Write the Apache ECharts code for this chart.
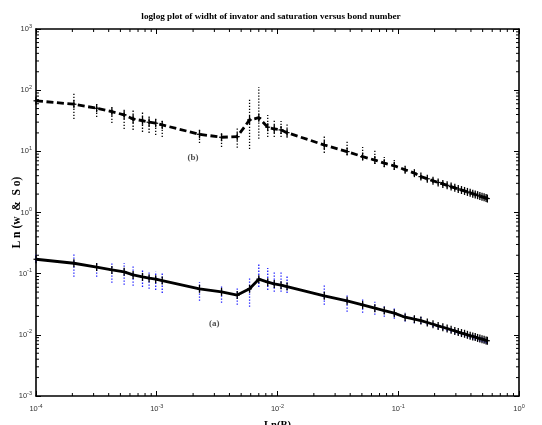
<!DOCTYPE html>
<html><head><meta charset="utf-8">
<script src="https://cdn.jsdelivr.net/npm/echarts@6/dist/echarts.min.js"></script>
<style>html,body{margin:0;padding:0;background:#fff}#c{width:542px;height:425px}</style>
</head><body><div id="c"></div>
<script>
const titleText = 'loglog plot of widht of invator and saturation versus bond number';
const xName = 'Ln(B)';
const yName = 'L n (w  &  S o)';
const xMin = 1e-4, xMax = 1;
const yMin = 1e-3, yMax = 1e3;

// bond number (x) sampled values
const bondNumber = [1e-4, 2.06e-4, 3.18e-4, 4.25e-4, 5.37e-4, 6.37e-4, 7.62e-4, 8.64e-4, 9.8e-4, 1.11e-3,
  2.26e-3, 3.44e-3, 4.64e-3, 5.87e-3, 7.0e-3, 8.3e-3, 9.4e-3, 1.07e-2, 1.2e-2,
  2.44e-2, 3.77e-2, 5.07e-2, 6.4e-2, 7.66e-2, 9.27e-2, 0.114, 0.136, 0.154,
  0.174, 0.194, 0.214, 0.234, 0.254, 0.274, 0.294, 0.314, 0.334, 0.354, 0.374, 0.394,
  0.414, 0.434, 0.454, 0.474, 0.494, 0.514, 0.534, 0.547];

// (b) width of invader - mean line and spread of realisations
const widthB = [67, 58.9, 50.6, 44.5, 39.4, 33.8, 31.7, 29.9, 28.8, 27,
  19, 17, 17.4, 32.6, 35.5, 24.8, 23.2, 22.4, 20.2,
  12.7, 9.9, 8.2, 7.2, 6.4, 5.8, 5.0, 4.4, 3.86,
  3.56, 3.31, 3.10, 2.93, 2.78, 2.65, 2.53, 2.43, 2.33, 2.25, 2.17, 2.10,
  2.03, 1.97, 1.92, 1.86, 1.81, 1.77, 1.72, 1.69];
const widthBLow = [67, 33.8, 36.5, 29.1, 23.2, 22.4, 20.8, 20, 18.5, 17.2,
  13.7, 11.8, 11.4, 10.9, 16, 17.2, 17.2, 17.2, 16.6,
  9.42, 8.73, 7.22, 6.22, 5.56, 4.97, 4.5, 3.95, 3.5,
  3.25, 3.05, 2.86, 2.70, 2.56, 2.44, 2.34, 2.25, 2.16, 2.08, 2.01, 1.95,
  1.89, 1.83, 1.78, 1.73, 1.69, 1.65, 1.61, 1.59];
const widthBHigh = [67, 90, 59.6, 53.1, 51.2, 49.3, 45.7, 37.9, 36.5, 33.8,
  23.2, 20, 24.1, 71.8, 113, 39.3, 32.6, 31.4, 29.1,
  18.5, 14.3, 11.8, 10.5, 8.09, 7.22, 5.7, 4.95, 4.3,
  3.9, 3.6, 3.37, 3.18, 3.01, 2.87, 2.74, 2.62, 2.51, 2.42, 2.34, 2.26,
  2.18, 2.11, 2.06, 1.99, 1.94, 1.89, 1.84, 1.80];

// (a) saturation - mean line and spread of realisations
const satA = [0.172, 0.148, 0.128, 0.115, 0.107, 0.0955, 0.0887, 0.0844, 0.0813, 0.0771,
  0.0565, 0.0505, 0.0446, 0.0565, 0.0813, 0.0726, 0.068, 0.0648, 0.0615,
  0.0434, 0.036, 0.0309, 0.0273, 0.0249, 0.0226, 0.0194, 0.018, 0.0171,
  0.0159, 0.0149, 0.0140, 0.0133, 0.0127, 0.0121, 0.0116, 0.0111, 0.0107, 0.0104, 0.0100, 0.0097,
  0.0094, 0.0092, 0.0089, 0.0087, 0.0085, 0.0083, 0.0081, 0.0080];
const satALow = [0.156, 0.0887, 0.0887, 0.0708, 0.0656, 0.0632, 0.0608, 0.0565, 0.0543, 0.0485,
  0.036, 0.0334, 0.0309, 0.0287, 0.0608, 0.0543, 0.0504, 0.0504, 0.0485,
  0.0309, 0.0238, 0.0229, 0.0212, 0.0197, 0.0183, 0.0165, 0.0155, 0.015,
  0.0143, 0.0134, 0.0126, 0.0120, 0.0114, 0.0109, 0.0104, 0.0100, 0.0096, 0.0094, 0.0090, 0.0087,
  0.0085, 0.0083, 0.0080, 0.0078, 0.0077, 0.0075, 0.0073, 0.0072];
const satAHigh = [0.203, 0.219, 0.156, 0.150, 0.150, 0.139, 0.115, 0.107, 0.107, 0.103,
  0.0734, 0.0656, 0.0608, 0.0887, 0.150, 0.124, 0.107, 0.107, 0.0955,
  0.0656, 0.0468, 0.0403, 0.0346, 0.0309, 0.0287, 0.0235, 0.021, 0.0195,
  0.0175, 0.0164, 0.0154, 0.0146, 0.0140, 0.0133, 0.0128, 0.0122, 0.0118, 0.0114, 0.0110, 0.0107,
  0.0103, 0.0101, 0.0098, 0.0096, 0.0094, 0.0091, 0.0089, 0.0088];

const curveLabels = [{text: '(b)', x: 2.0e-3, y: 8.0}, {text: '(a)', x: 3.0e-3, y: 0.0155}];

// minor tick values (k * 10^n)
const xMinorTicks = [];
for (let n = -4; n < 0; n++) for (let k = 2; k <= 9; k++) xMinorTicks.push(k * Math.pow(10, n));
const yMinorTicks = [];
for (let n = -3; n < 3; n++) for (let k = 2; k <= 9; k++) yMinorTicks.push(k * Math.pow(10, n));

const pairs = (xs, ys) => xs.map((x, i) => [x, ys[i]]);
const errData = (lo, hi, mid) => bondNumber.map((x, i) => [x, lo[i], hi[i], mid[i]]);

const serif = 'Liberation Serif, Times New Roman, serif';
const sans = 'Liberation Sans, Arial, sans-serif';
const supFmt = v => {
  const e = Math.round(Math.log10(v));
  return '{b|10}{s|' + e + '}';
};
const richLbl = {
  b: {fontSize: 7.5, fontFamily: sans, color: '#333'},
  s: {fontSize: 5.5, fontFamily: sans, color: '#333', padding: [0, 0, 6, 0]}
};

function errRender(dotColor, crossColor) {
  return function (params, api) {
    const x = api.value(0), lo = api.value(1), hi = api.value(2), mid = api.value(3);
    const pLo = api.coord([x, lo]), pHi = api.coord([x, hi]), pM = api.coord([x, mid]);
    return {
      type: 'group', children: [
        {type: 'line', shape: {x1: pLo[0], y1: pLo[1], x2: pHi[0], y2: pHi[1]},
          style: {stroke: dotColor, lineWidth: 1.3, lineDash: [1.3, 1.7]}},
        {type: 'line', shape: {x1: pM[0], y1: pM[1] - 4, x2: pM[0], y2: pM[1] + 4},
          style: {stroke: crossColor, lineWidth: 1.3}},
        {type: 'line', shape: {x1: pM[0] - 2.5, y1: pM[1], x2: pM[0] + 2.5, y2: pM[1]},
          style: {stroke: crossColor, lineWidth: 1.2}}
      ]
    };
  };
}

function minorX(params, api) {
  const v = api.value(0);
  const b = api.coord([v, yMin]), t = api.coord([v, yMax]);
  return {type: 'group', children: [
    {type: 'line', shape: {x1: b[0], y1: b[1], x2: b[0], y2: b[1] - 3}, style: {stroke: '#000', lineWidth: 1}},
    {type: 'line', shape: {x1: t[0], y1: t[1], x2: t[0], y2: t[1] + 3}, style: {stroke: '#000', lineWidth: 1}}
  ]};
}
function minorY(params, api) {
  const v = api.value(1);
  const l = api.coord([xMin, v]), r = api.coord([xMax, v]);
  return {type: 'group', children: [
    {type: 'line', shape: {x1: l[0], y1: l[1], x2: l[0] + 3, y2: l[1]}, style: {stroke: '#000', lineWidth: 1}},
    {type: 'line', shape: {x1: r[0], y1: r[1], x2: r[0] - 3, y2: r[1]}, style: {stroke: '#000', lineWidth: 1}}
  ]};
}

const axLine = {show: true, lineStyle: {color: '#000', width: 1.6}};
const axTick = {show: true, inside: true, length: 5, lineStyle: {color: '#000', width: 1}};

const chart = echarts.init(document.getElementById('c'));
chart.setOption({
  animation: false,
  backgroundColor: '#fff',
  title: {
    text: titleText, left: 'center', top: 7,
    textStyle: {fontFamily: serif, fontWeight: 'bold', fontSize: 9.2, color: '#000'}
  },
  grid: {left: 36, right: 23, top: 29, bottom: 29, containLabel: false, outerBoundsMode: 'none'},
  xAxis: [
    {type: 'log', logBase: 10, min: xMin, max: xMax, splitNumber: 4, position: 'bottom',
      name: xName, nameLocation: 'middle', nameGap: 24, nameMoveOverlap: false,
      nameTextStyle: {fontFamily: serif, fontWeight: 'bold', fontSize: 10.5, color: '#000'},
      axisLine: axLine, axisTick: axTick, splitLine: {show: false},
      axisLabel: {formatter: supFmt, rich: richLbl, margin: 7}},
    {type: 'log', logBase: 10, min: xMin, max: xMax, splitNumber: 4, position: 'top',
      axisLine: axLine, axisTick: axTick, splitLine: {show: false}, axisLabel: {show: false}}
  ],
  yAxis: [
    {type: 'log', logBase: 10, min: yMin, max: yMax, splitNumber: 6, position: 'left',
      name: yName, nameLocation: 'middle', nameGap: 13, nameRotate: 90, nameMoveOverlap: false,
      nameTextStyle: {fontFamily: serif, fontWeight: 'bold', fontSize: 11.5, color: '#000'},
      axisLine: axLine, axisTick: axTick, splitLine: {show: false},
      axisLabel: {formatter: supFmt, rich: richLbl, margin: 4}},
    {type: 'log', logBase: 10, min: yMin, max: yMax, splitNumber: 6, position: 'right',
      axisLine: axLine, axisTick: axTick, splitLine: {show: false}, axisLabel: {show: false}}
  ],
  series: [
    {type: 'custom', renderItem: minorX, clip: false, silent: true,
      data: xMinorTicks.map(v => [v, 1]), encode: {x: 0, y: 1}, z: 5},
    {type: 'custom', renderItem: minorY, clip: false, silent: true,
      data: yMinorTicks.map(v => [1e-2, v]), encode: {x: 0, y: 1}, z: 5},
    {type: 'custom', renderItem: errRender('#000', '#000'), silent: true,
      data: errData(widthBLow, widthBHigh, widthB), encode: {x: 0, y: [1, 2, 3]}, z: 2},
    {type: 'custom', renderItem: errRender('#1a1aff', '#000'), silent: true,
      data: errData(satALow, satAHigh, satA), encode: {x: 0, y: [1, 2, 3]}, z: 2},
    {type: 'line', data: pairs(bondNumber, widthB), showSymbol: false, symbol: 'none',
      lineStyle: {color: '#000', width: 2.8, type: [7, 3.5]}, z: 3},
    {type: 'line', data: pairs(bondNumber, satA), showSymbol: false, symbol: 'none',
      lineStyle: {color: '#000', width: 2.8}, z: 3},
    {type: 'scatter', symbolSize: 0, silent: true,
      data: curveLabels.map(l => ({value: [l.x, l.y], name: l.text})),
      label: {show: true, position: 'inside', formatter: p => p.name,
        fontFamily: serif, fontWeight: 'bold', fontSize: 9, color: '#222'}}
  ]
});
</script>
</body></html>
